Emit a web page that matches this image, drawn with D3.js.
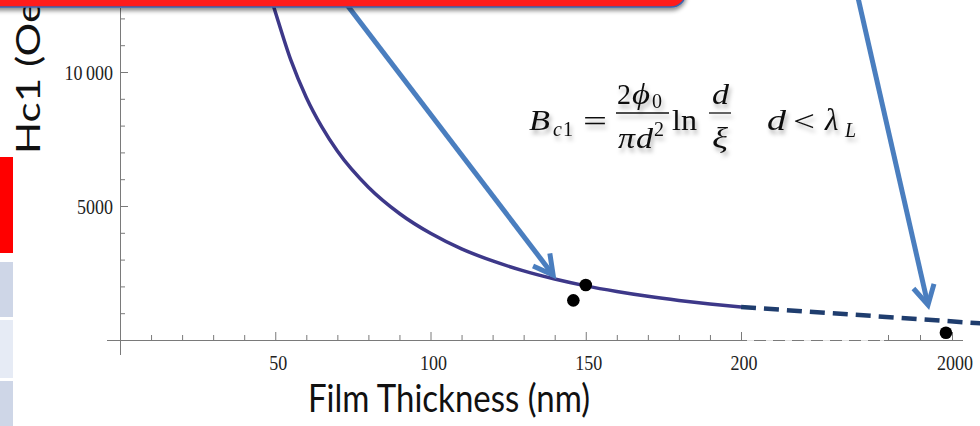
<!DOCTYPE html>
<html><head><meta charset="utf-8">
<script src="https://cdn.jsdelivr.net/npm/d3@7"></script>
<style>
html,body{margin:0;padding:0;background:#fff;overflow:hidden}
svg{display:block}
</style></head><body>
<svg id="chart" width="980" height="426"></svg>
<script>
// Lower critical field Hc1 versus film thickness
const thickness = [48, 50, 55, 60, 65, 70, 80, 90, 100, 110, 120, 130, 140, 150, 160, 170, 180, 190, 200];
const hc1Curve  = [13000, 12250, 10450, 9050, 7950, 7050, 5700, 4720, 3980, 3400, 2950, 2580, 2275, 2020, 1810, 1630, 1477, 1345, 1231];
const extThickness = [200, 2090];
const extHc1 = [1231, 620];
const measuredThickness = [150, 146, 1981];
const measuredHc1 = [2050, 1480, 270];
const xMajorTicks = [50, 100, 150, 200, 2000];
const xMajorLabels = ["50", "100", "150", "200", "2000"];
const xMinorTicks = [10, 20, 30, 40, 60, 70, 80, 90, 110, 120, 130, 140, 160, 170, 180, 190, 1800, 1900];
const yMajorTicks = [5000, 10000];
const yMajorLabels = ["5000", "10\u2009000"];
const yMinorTicks = [1000, 2000, 3000, 4000, 6000, 7000, 8000, 9000, 11000, 12000];
// annotation arrows: [thickness, Hc1] tail -> head
const arrowTails = [[70.5, 12900], [1465, 12900]];
const arrowHeads = [[139.5, 2425], [1925, 1306]];

const svg = d3.select("#chart");
const defs = svg.append("defs");
defs.append("filter").attr("id", "txtShadow").attr("x", "-10%").attr("y", "-20%").attr("width", "130%").attr("height", "160%")
  .append("feDropShadow").attr("dx", 2).attr("dy", 4).attr("stdDeviation", 2.2)
  .attr("flood-color", "#000").attr("flood-opacity", 0.3);
defs.append("filter").attr("id", "boxShadow").attr("x", "-5%").attr("y", "-50%").attr("width", "110%").attr("height", "300%")
  .append("feDropShadow").attr("dx", 0).attr("dy", 3).attr("stdDeviation", 2)
  .attr("flood-color", "#000").attr("flood-opacity", 0.45);

// broken x-axis: linear 0..200, compressed gap, then 1800..2000
const x = d3.scaleLinear().domain([0, 200, 1800, 2000]).range([120, 741, 888, 952]);
const y = d3.scaleLinear().domain([0, 10000]).range([340, 72]);

// side navigation strip
const strip = [[157, 253, "#ff0000"], [262, 317, "#ced6e7"], [320, 378, "#e6ebf5"], [381, 430, "#ced6e7"]];
svg.selectAll("rect.strip").data(strip).join("rect").attr("class", "strip")
  .attr("x", 0).attr("width", 13).attr("y", d => d[0]).attr("height", d => d[1] - d[0]).attr("fill", d => d[2]);

// axes
const axisCol = "#7a7a7a";
const ax = svg.append("g").attr("stroke", axisCol).attr("stroke-width", 1).attr("fill", "none");
ax.append("line").attr("x1", 120.5).attr("x2", 120.5).attr("y1", 8).attr("y2", 355);
ax.append("line").attr("x1", 107).attr("x2", 963).attr("y1", 340.5).attr("y2", 340.5);
// faded span where the axis is broken
svg.append("line").attr("x1", 747).attr("x2", 884).attr("y1", 340.5).attr("y2", 340.5)
  .attr("stroke", "#fff").attr("stroke-width", 2).attr("stroke-dasharray", "7,12").attr("opacity", 0.8);
ax.selectAll("line.xmaj").data(xMajorTicks).join("line").attr("class", "xmaj")
  .attr("x1", d => x(d) + 0.5).attr("x2", d => x(d) + 0.5).attr("y1", 340).attr("y2", 332);
ax.selectAll("line.xmin").data(xMinorTicks).join("line").attr("class", "xmin")
  .attr("x1", d => x(d) + 0.5).attr("x2", d => x(d) + 0.5).attr("y1", 340).attr("y2", 335);
ax.selectAll("line.ymaj").data(yMajorTicks).join("line").attr("class", "ymaj")
  .attr("x1", 120).attr("x2", 128).attr("y1", d => y(d) + 0.5).attr("y2", d => y(d) + 0.5);
ax.selectAll("line.ymin").data(yMinorTicks).join("line").attr("class", "ymin")
  .attr("x1", 120).attr("x2", 125).attr("y1", d => y(d) + 0.5).attr("y2", d => y(d) + 0.5);

const tickFont = "'Liberation Serif', 'Times New Roman', serif";
svg.selectAll("text.xl").data(xMajorTicks).join("text").attr("class", "xl")
  .attr("transform", d => `translate(${x(d) + 3},370) scale(1,1.2)`)
  .attr("text-anchor", "middle").attr("font-family", tickFont).attr("font-size", 18).attr("fill", "#222")
  .text((d, i) => xMajorLabels[i]);
svg.selectAll("text.yl").data(yMajorTicks).join("text").attr("class", "yl")
  .attr("transform", d => `translate(113,${y(d) + 7.5}) scale(1,1.2)`)
  .attr("text-anchor", "end").attr("font-family", tickFont).attr("font-size", 18).attr("fill", "#222")
  .text((d, i) => yMajorLabels[i]);

// axis titles
const titleFont = "Lato, 'Open Sans', sans-serif";
svg.append("text").attr("transform", "translate(449,412) scale(1,1.15)")
  .attr("text-anchor", "middle").attr("font-family", titleFont).attr("font-size", 33).attr("fill", "#111")
  .text("Film Thickness (nm)");
// the vertical title runs up beneath the banner, which covers its end
svg.append("text").attr("transform", "translate(40,154) rotate(-90) scale(1.32,1)")
  .attr("font-family", titleFont).attr("font-size", 32).attr("fill", "#111")
  .text("Hc1 (Oe)");

// theory curve and its dashed extension
const pts = thickness.map((d, i) => [d, hc1Curve[i]]);
const line = d3.line().x(d => x(d[0])).y(d => y(d[1])).curve(d3.curveMonotoneX);
svg.append("path").attr("d", line(pts)).attr("fill", "none")
  .attr("stroke", "#3d3889").attr("stroke-width", 3.5);
const ext = extThickness.map((d, i) => [d, extHc1[i]]);
svg.append("path").attr("d", d3.line().x(d => x(d[0])).y(d => y(d[1]))(ext)).attr("fill", "none")
  .attr("stroke", "#1f3d6e").attr("stroke-width", 4.5).attr("stroke-dasharray", "15,8");

// measured points
svg.selectAll("circle.pt").data(measuredThickness).join("circle").attr("class", "pt")
  .attr("cx", d => x(d)).attr("cy", (d, i) => y(measuredHc1[i])).attr("r", 6.3).attr("fill", "#000");

// formula
const f = svg.append("g").attr("filter", "url(#txtShadow)").attr("fill", "#111")
  .attr("font-family", tickFont);
function t(str, px, py, size, italic, len) {
  const e = f.append("text").attr("x", px).attr("y", py).attr("font-size", size)
    .attr("font-style", italic ? "italic" : "normal").text(str);
  if (len) e.attr("textLength", len).attr("lengthAdjust", "spacingAndGlyphs");
  return e;
}
t("B", 529, 130, 30, true, 21);
t("c", 553, 136, 20, true);
t("1", 563, 136, 20, false);
t("=", 583, 131, 30, false, 24);
t("2", 617, 104, 30, false, 14);
t("\u03d5", 632, 104, 30, true, 18);
t("0", 652, 108, 20, false);
f.append("line").attr("x1", 616).attr("x2", 669).attr("y1", 113).attr("y2", 113).attr("stroke", "#111").attr("stroke-width", 1.3);
t("\u03c0", 618, 148, 30, true, 17);
t("d", 636, 148, 30, true, 17);
t("2", 654, 136, 20, false);
t("ln", 672, 130, 30, false, 25);
t("d", 712, 104, 30, true, 17);
f.append("line").attr("x1", 709).attr("x2", 731).attr("y1", 113).attr("y2", 113).attr("stroke", "#111").attr("stroke-width", 1.3);
t("\u03be", 712, 148, 30, true, 16);
t("d", 767, 130, 30, true, 19);
t("<", 793, 131, 30, false, 22);
t("\u03bb", 825, 130, 31, true);
t("L", 845, 137, 20, true);

// annotation arrows
const ag = svg.append("g").attr("stroke", "#4a7ebf").attr("stroke-width", 5).attr("fill", "none")
  .attr("stroke-linecap", "butt").attr("stroke-linejoin", "miter");
arrowTails.forEach((tl, i) => {
  const hd = arrowHeads[i];
  const x0 = x(tl[0]), y0 = y(tl[1]), x1 = x(hd[0]), y1 = y(hd[1]);
  const ang = Math.atan2(y1 - y0, x1 - x0), L = 22, th = 0.5;
  ag.append("line").attr("x1", x0).attr("y1", y0).attr("x2", x1 - 2 * Math.cos(ang)).attr("y2", y1 - 2 * Math.sin(ang));
  ag.append("path").attr("d", `M${x1 - L * Math.cos(ang - th)},${y1 - L * Math.sin(ang - th)} L${x1},${y1} L${x1 - L * Math.cos(ang + th)},${y1 - L * Math.sin(ang + th)}`);
});

// title banner at the top
svg.append("path").attr("d", "M-10,-30 H686 V-8 A15,15 0 0 1 671,7 H-10 Z")
  .attr("fill", "#ff1a1a").attr("stroke", "#3b64ad").attr("stroke-width", 1.5).attr("filter", "url(#boxShadow)");
</script></body></html>
